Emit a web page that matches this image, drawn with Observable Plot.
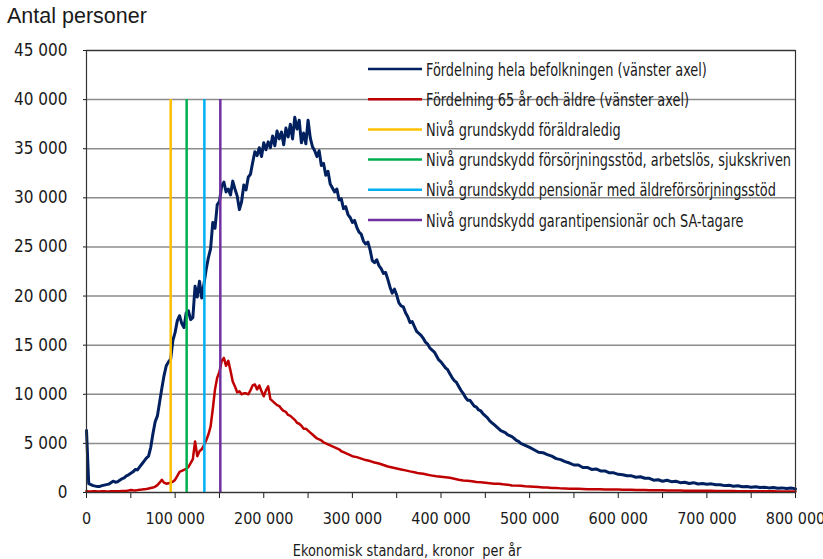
<!DOCTYPE html>
<html><head><meta charset="utf-8">
<script src="https://cdn.jsdelivr.net/npm/d3@7"></script>
<script src="https://cdn.jsdelivr.net/npm/@observablehq/plot@0.6"></script>
<style>
body{margin:0;background:#fff}
#c{position:relative;width:823px;height:559px}
#t{position:absolute;left:7px;top:4px;font:21.5px "Liberation Sans",Arial,sans-serif;color:#1a1a1a;white-space:nowrap}
</style>
</head><body><div id="c"><div id="t">Antal personer</div></div>
<script>
// Income bins (kronor per år): 2 500 kr steps where the curves are dense, 5 000 kr steps in the tails
const allPopX = [...d3.range(0, 500000, 2500), ...d3.range(500000, 800001, 5000)];
const elderlyX = [...d3.range(0, 300000, 2500), ...d3.range(300000, 800001, 5000)];

// Fördelning hela befolkningen (antal personer), 0–497 500 kr in 2 500 steps
const allPopFine = [
  6300, 900, 800, 700, 650, 600, 620, 700, 750, 800,
  850, 1000, 1150, 1050, 1100, 1250, 1400, 1500, 1700, 1800,
  1950, 2100, 2350, 2300, 2600, 2900, 3200, 3500, 3700, 4600,
  6000, 7200, 7800, 9200, 10600, 11900, 12900, 13300, 13600, 15500,
  16300, 17500, 18000, 17200, 16800, 18300, 18500, 17600, 17800, 21000,
  19900, 21500, 19800, 21200, 22700, 23900, 24800, 27500, 26900, 29300,
  29600, 31200, 31600, 30600, 30900, 30300, 31700, 30900, 30200, 28800,
  29600, 31300, 30800, 32100, 32400, 33600, 34700, 34300, 35100, 34200,
  35600, 34900, 35700, 35100, 36300, 35300, 36800, 36000, 36700, 35400,
  37100, 36200, 37500, 36000, 38200, 37000, 37900, 35600, 36600, 35500,
  37900, 36100, 35200, 34800, 34200, 34800, 33300, 33500, 32300, 32700,
  31400, 31000, 30600, 30900, 29800, 29900, 28900, 29100, 28300, 28000,
  27500, 27700, 27000, 26500, 26300, 25600, 25300, 25500, 24700, 23600,
  23400, 23700, 23100, 22800, 22300, 22400, 21700, 20900, 20300, 20700,
  20100, 19300, 19000, 18900, 18300, 17900, 17300, 17400, 16900, 16400,
  16200, 16000, 15700, 15300, 15100, 14700, 14500, 14300, 13900, 13500,
  13300, 13000, 12700, 12500, 12100, 11700, 11400, 11200, 10800, 10400,
  10100, 9700, 9400, 9400, 9100, 8800, 8700, 8400, 8300, 8000,
  7800, 7600, 7300, 7100, 6900, 6700, 6500, 6300, 6200, 6100,
  5900, 5800, 5700, 5500, 5300, 5200, 5000, 4900, 4800, 4700
];
// Fördelning hela befolkningen, 500 000–800 000 kr in 5 000 steps
const allPopTail = [
  4600, 4350, 4100, 4050, 3850, 3700, 3450, 3350, 3150, 3000,
  2800, 2800, 2550, 2550, 2350, 2400, 2200, 2200, 2000, 2000,
  1850, 1800, 1700, 1700, 1550, 1600, 1450, 1450, 1250, 1300,
  1150, 1250, 1100, 1150, 1000, 1050, 920, 1000, 870, 920,
  850, 880, 780, 790, 700, 730, 640, 680, 590, 620,
  540, 580, 500, 540, 470, 500, 430, 470, 400, 450,
  370
];

// Fördelning 65 år och äldre, 0–297 500 kr in 2 500 steps
const elderlyFine = [
  150, 110, 100, 120, 120, 100, 100, 120, 130, 110,
  110, 130, 140, 120, 120, 140, 150, 160, 180, 210,
  250, 220, 200, 240, 280, 300, 330, 360, 400, 450,
  500, 600, 750, 1000, 1300, 1000, 900, 950, 1000, 1100,
  1300, 1700, 2100, 2200, 2300, 2400, 2600, 3000, 3400, 5200,
  3700, 4200, 4400, 4800, 5300, 5900, 6700, 8500, 10500, 11700,
  12300, 13400, 13700, 12900, 13400, 12400, 11300, 10800, 10200, 10300,
  10000, 10100, 10100, 10000, 10400, 10900, 11000, 10500, 10900, 10300,
  9800, 10400, 10800, 9500, 9300, 9100, 8900, 8800, 8500, 8300,
  8200, 7900, 7800, 7600, 7400, 7100, 7000, 6800, 6500, 6500,
  6300, 6100, 5900, 5700, 5500, 5400, 5300, 5100, 5000, 4900,
  4800, 4700, 4600, 4500, 4400, 4200, 4100, 4000, 3900, 3800
];
// Fördelning 65 år och äldre, 300 000–800 000 kr in 5 000 steps
const elderlyTail = [
  3700, 3600, 3450, 3300, 3200, 3050, 2950, 2800, 2650, 2550,
  2450, 2350, 2250, 2150, 2070, 1950, 1900, 1800, 1720, 1650,
  1600, 1560, 1500, 1400, 1300, 1230, 1200, 1150, 1080, 1050,
  1000, 950, 900, 880, 830, 800, 720, 700, 680, 640,
  610, 580, 560, 520, 500, 470, 450, 420, 400, 390,
  380, 370, 350, 340, 330, 330, 320, 310, 310, 300,
  300, 290, 280, 270, 260, 250, 250, 240, 230, 230,
  220, 210, 210, 200, 200, 190, 190, 180, 180, 170,
  170, 170, 160, 160, 150, 150, 150, 140, 140, 140,
  130, 130, 130, 120, 120, 120, 110, 110, 110, 100,
  100
];

// Nivåer för grundskydd (kronor per år)
const levelNames = [
  "Nivå grundskydd föräldraledig",
  "Nivå grundskydd försörjningsstöd, arbetslös, sjukskriven",
  "Nivå grundskydd pensionär med äldreförsörjningsstöd",
  "Nivå grundskydd garantipensionär och SA-tagare"
];
const levelValues = [95000, 113000, 133000, 151000];
const levelTop = 40000;

const seriesNames = [
  "Fördelning hela befolkningen (vänster axel)",
  "Fördelning 65 år och äldre (vänster axel)"
];
const seriesColors = ["#002060", "#c00000"];
const levelColors = ["#ffc000", "#00b050", "#00b0f0", "#7030a0"];

const yTicks = [0, 5000, 10000, 15000, 20000, 25000, 30000, 35000, 40000, 45000];
const xTicks = [0, 100000, 200000, 300000, 400000, 500000, 600000, 700000, 800000];
const xMinorTicks = [50000, 150000, 250000, 350000, 450000, 550000, 650000, 750000];
const xTitle = "Ekonomisk standard, kronor  per år";

const fmt = d => d3.format(",")(d).replace(/,/g, " ");

const allPop = [...allPopFine, ...allPopTail];
const elderly = [...elderlyFine, ...elderlyTail];
const allData = allPopX.map((x, i) => ({x, y: allPop[i]}));
const oldData = elderlyX.map((x, i) => ({x, y: elderly[i]}));
const levels = levelValues.map((v, i) => ({value: v, name: levelNames[i], color: levelColors[i]}));

const FONT = '"Liberation Sans Narrow","Arial Narrow","DejaVu Sans Condensed",sans-serif';

const chart = Plot.plot({
  width: 823, height: 559,
  marginLeft: 86, marginRight: 28, marginTop: 50, marginBottom: 67,
  style: {fontFamily: FONT, fontSize: "17px", color: "#1a1a1a", background: "transparent"},
  x: {domain: [0, 800000]},
  y: {domain: [0, 45000]},
  marks: [
    Plot.gridY(yTicks, {stroke: "#8c8c8c", strokeOpacity: 1, strokeWidth: 1.5}),
    Plot.line(oldData, {x: "x", y: "y", stroke: seriesColors[1], strokeWidth: 2.5, strokeLinejoin: "round"}),
    Plot.line(allData, {x: "x", y: "y", stroke: seriesColors[0], strokeWidth: 3, strokeLinejoin: "round"}),
    ...levels.map(l => Plot.ruleX([l], {x: "value", y1: 0, y2: levelTop, stroke: l.color, strokeWidth: 2.5})),
    Plot.axisY(yTicks, {tickSize: 3, tickPadding: 16, tickFormat: fmt, label: null}),
    Plot.axisX(xMinorTicks, {tickSize: 6, tickFormat: () => "", label: null}),
    Plot.axisX(xTicks, {tickSize: 6, tickPadding: 14, tickFormat: fmt, label: null, fontSize: 16}),
    Plot.frame({stroke: "#333", strokeWidth: 1.2})
  ]
});

document.getElementById("c").prepend(chart);
chart.style.position = "absolute";
chart.style.left = "0"; chart.style.top = "0";

const svg = d3.select(chart);
// x-axis title
svg.append("text")
  .attr("transform", "translate(407,556) scale(0.9,1)")
  .attr("text-anchor", "middle")
  .attr("font-family", FONT).attr("font-size", 16).attr("fill", "#1a1a1a")
  .text(xTitle);

// legend
const legendItems = [
  ...seriesNames.map((n, i) => ({name: n, color: seriesColors[i]})),
  ...levels.map(l => ({name: l.name, color: l.color}))
];
const lg = svg.append("g").attr("font-family", FONT).attr("font-size", 18.5)
  .attr("fill", "#1a1a1a").attr("text-anchor", "start");
legendItems.forEach((d, i) => {
  const y = 69 + i * 30.2;
  lg.append("line").attr("x1", 368).attr("x2", 422).attr("y1", y).attr("y2", y)
    .attr("stroke", d.color).attr("stroke-width", 2.5);
  lg.append("text").attr("transform", `translate(426,${y}) scale(0.775,1)`)
    .attr("dy", "0.36em").text(d.name);
});
</script>
</body></html>
